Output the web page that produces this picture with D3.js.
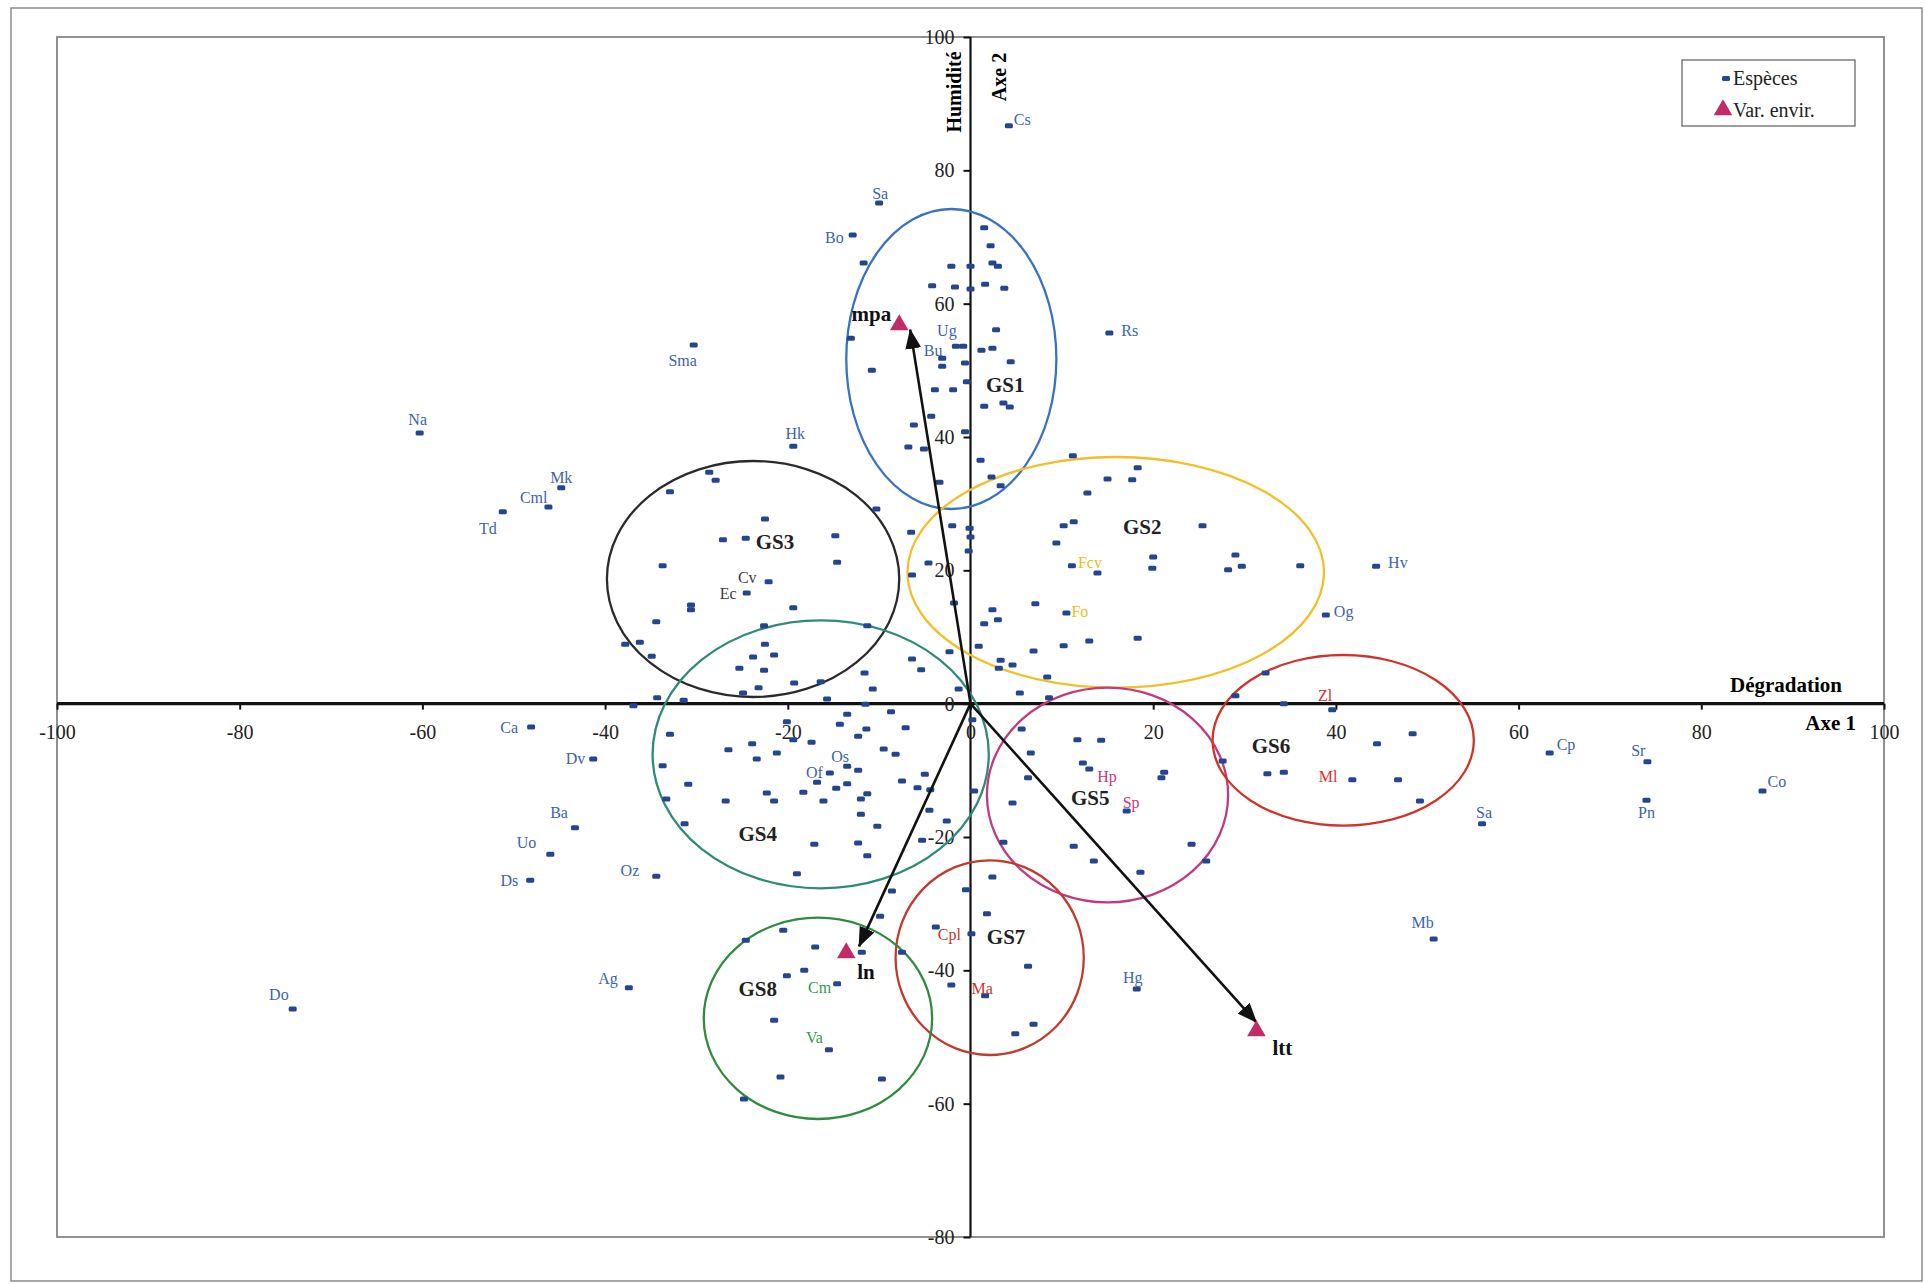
<!DOCTYPE html>
<html><head><meta charset="utf-8">
<script src="https://cdn.jsdelivr.net/npm/d3@7"></script>
<style>
html,body{margin:0;padding:0;background:#fff;}
svg{display:block;font-family:"Liberation Serif","Times New Roman",serif;}
</style></head><body>
<svg id="chart" width="1925" height="1284"></svg>
<script>
// ---------------- DATA ----------------
const xTicks = [-100,-80,-60,-40,-20,0,20,40,60,80,100];
const yTicks = [-80,-60,-40,-20,0,20,40,60,80,100];

// species with a name shown on the chart (Axe 1, Axe 2)
const labelledSpecies = [
  {code:"Cs",x:4.2,y:86.7},{code:"Sa",x:-10.0,y:75.1},{code:"Bo",x:-12.9,y:70.3},
  {code:"Rs",x:15.2,y:55.6},{code:"Ug",x:-1.6,y:53.6},{code:"Bu",x:-3.1,y:51.8},
  {code:"Sma",x:-30.3,y:53.8},{code:"Hk",x:-19.4,y:38.6},{code:"Na",x:-60.3,y:40.6},
  {code:"Mk",x:-44.8,y:32.4},{code:"Cml",x:-46.2,y:29.5},{code:"Td",x:-51.2,y:28.8},
  {code:"Cv",x:-22.1,y:18.3},{code:"Ec",x:-24.5,y:16.6},{code:"Fcv",x:11.1,y:20.7},
  {code:"Fo",x:10.5,y:13.6},{code:"Hv",x:44.4,y:20.6},{code:"Og",x:38.9,y:13.3},
  {code:"Zl",x:39.6,y:-0.9},{code:"Ml",x:41.8,y:-11.4},{code:"Hp",x:13.0,y:-9.8},
  {code:"Sp",x:17.1,y:-16.1},{code:"Cp",x:63.4,y:-7.4},{code:"Sr",x:74.1,y:-8.7},
  {code:"Co",x:86.7,y:-13.1},{code:"Pn",x:74.0,y:-14.5},{code:"Sa ",x:56.0,y:-18.0},
  {code:"Mb",x:50.7,y:-35.3},{code:"Hg",x:18.2,y:-42.8},{code:"Cpl",x:-3.8,y:-33.5},
  {code:"Ma",x:1.6,y:-43.8},{code:"Cm",x:-14.6,y:-42.0},{code:"Va",x:-15.5,y:-51.9},
  {code:"Of",x:-15.4,y:-10.4},{code:"Os",x:-13.5,y:-9.4},{code:"Ca",x:-48.1,y:-3.5},
  {code:"Dv",x:-41.3,y:-8.3},{code:"Ba",x:-43.3,y:-18.6},{code:"Uo",x:-46.0,y:-22.6},
  {code:"Ds",x:-48.2,y:-26.5},{code:"Oz",x:-34.4,y:-25.9},{code:"Ag",x:-37.4,y:-42.6},
  {code:"Do",x:-74.2,y:-45.8}
];

// other species (Axe 1, Axe 2)
const otherSpecies = [
  // GS1 area
  [-11.7,66.1],[-2.1,65.6],[0,65.6],[1.5,71.4],[2.2,68.7],[2.4,66.1],[3.0,65.6],
  [-4.2,62.7],[-1.7,62.5],[0,62.2],[1.6,62.9],[3.7,62.3],[2.8,56.1],[-0.8,53.6],
  [1.2,53.0],[2.4,53.3],[-13.1,54.8],[-3.1,50.6],[-0.6,51.1],[4.4,51.3],[-10.8,50.0],
  [-3.9,47.1],[-1.9,47.1],[-0.4,48.3],[1.5,44.6],[3.6,45.1],[4.3,44.5],[-4.3,43.1],
  [-6.2,41.8],[-0.6,40.8],[-6.8,38.5],[-5.1,38.2],[1.1,36.5],[2.3,34.0],[3.3,32.7],[-3.4,33.2],
  // GS2 area
  [11.2,37.2],[15.0,33.7],[12.8,31.6],[18.3,35.4],[17.7,33.6],[-2.0,26.7],[-0.1,26.3],
  [-6.5,25.7],[0,25.0],[-0.2,22.9],[-4.6,21.1],[-6.4,19.3],[-1.8,15.1],[2.4,14.1],
  [1.5,12.0],[3.0,12.6],[7.1,15.0],[13.9,19.6],[9.4,24.1],[10.2,26.7],[11.3,27.3],
  [0.9,8.6],[-2.3,7.8],[3.3,6.5],[3.1,5.3],[4.6,5.8],[6.9,7.9],[10.2,8.7],[13.0,9.4],
  [8.4,4.0],[5.4,1.6],[-1.3,2.2],[8.6,0.9],[25.4,26.7],[20.0,22.0],[19.9,20.3],
  [29.0,22.3],[28.2,20.1],[29.7,20.6],[36.1,20.7],[18.3,9.8],[32.3,4.6],[29.0,1.2],[34.3,0.0],
  // GS3 area
  [-28.6,34.7],[-27.9,33.5],[-32.9,31.8],[-10.3,29.2],[-22.5,27.7],[-27.1,24.6],[-24.6,24.8],
  [-14.8,25.2],[-14.6,21.2],[-33.7,20.7],[-30.6,14.8],[-30.6,14.1],[-19.4,14.4],[-34.4,12.3],
  [-22.6,11.7],[-11.3,11.7],[-37.8,8.9],[-36.2,9.2],[-34.9,7.1],[-22.5,8.9],[-23.8,7.0],
  [-21.5,7.3],[-25.3,5.3],[-22.6,5.0],[-19.3,3.1],[-16.4,3.3],[-23.2,2.4],[-24.9,1.6],
  [-34.3,0.9],[-31.4,0.5],[-36.9,-0.3],[-6.4,6.7],[-5.4,5.1],[-11.6,4.6],[-10.7,2.2],
  [-15.7,0.7],[-11.5,-0.1],
  // GS4 area
  [0.2,-2.4],[-13.5,-1.6],[-8.7,-1.2],[-7.1,-3.6],[-11.4,-3.8],[-12.3,-4.9],[-14.3,-3.1],
  [-17.4,-5.8],[-20.1,-2.7],[-19.4,-5.4],[-21.2,-7.4],[-23.9,-6.0],[-26.5,-6.9],[-32.9,-4.6],
  [-33.7,-9.3],[-30.9,-12.1],[-33.3,-14.3],[-31.3,-18.0],[-9.5,-6.8],[-8.2,-7.6],[-23.4,-8.3],
  [-26.8,-14.6],[-22.3,-13.4],[-21.5,-14.6],[-18.3,-13.3],[-16.1,-14.6],[-16.8,-11.8],
  [-14.7,-12.7],[-13.5,-12.0],[-12.3,-10.0],[-12.0,-14.3],[-11.3,-13.5],[-12.0,-16.6],
  [-7.5,-11.6],[-5.8,-12.6],[-4.4,-12.9],[-5.0,-10.6],[0.4,-13.1],[-4.5,-16.0],[-2.6,-17.6],
  [-10.2,-18.4],[-5.3,-20.5],[-17.1,-21.1],[-12.3,-20.9],[-11.3,-22.8],[-19.0,-25.5],
  // GS7 / GS8 area
  [-8.6,-28.1],[-0.5,-27.9],[2.4,-26.0],[1.8,-31.5],[-9.9,-31.9],[0.1,-34.5],[6.3,-39.4],
  [-2.1,-42.2],[6.9,-48.1],[4.9,-49.5],[-11.9,-37.3],[-7.5,-37.3],[-20.5,-34.0],[-24.6,-35.5],
  [-17.0,-36.5],[-18.2,-40.0],[-20.1,-40.8],[-21.5,-47.5],[-20.8,-56.0],[-9.7,-56.3],[-24.8,-59.3],
  // GS5 area
  [6.6,-7.4],[5.6,-3.8],[11.7,-5.4],[14.3,-5.5],[12.3,-8.9],[6.3,-11.1],[4.6,-14.9],
  [3.6,-20.8],[11.3,-21.4],[13.5,-23.6],[18.6,-25.3],[24.2,-21.1],[25.8,-23.6],
  [21.2,-10.3],[20.9,-11.1],[27.6,-8.6],
  // GS6 area
  [48.4,-4.5],[44.5,-6.0],[32.5,-10.5],[34.3,-10.3],[46.8,-11.4],[49.2,-14.6]
];

// environmental variables (Var. envir.) and their arrows
const envVariables = [
  {name:"mpa",x:-7.8,y:56.8},{name:"ln",x:-13.6,y:-37.4},{name:"ltt",x:31.3,y:-49.1}
];
const envArrowTips = [
  {name:"mpa",x:-6.6,y:56.1},{name:"ln",x:-12.2,y:-36.4},{name:"ltt",x:31.3,y:-47.8}
];

// species groups (ellipses, in axis units)
const groups = [
  {name:"GS1",cx:-2.1,cy:51.7,rx:11.5,ry:22.5},
  {name:"GS2",cx:15.9,cy:19.7,rx:22.8,ry:17.3},
  {name:"GS3",cx:-23.8,cy:18.7,rx:16.0,ry:17.7},
  {name:"GS4",cx:-16.4,cy:-7.6,rx:18.4,ry:20.1},
  {name:"GS5",cx:15.0,cy:-13.7,rx:13.2,ry:16.1},
  {name:"GS6",cx:40.8,cy:-5.5,rx:14.3,ry:12.8},
  {name:"GS7",cx:2.1,cy:-38.1,rx:10.3,ry:14.6},
  {name:"GS8",cx:-16.7,cy:-47.2,rx:12.5,ry:15.1}
];
const groupLabelAt = {
  GS1:[3.8,47.8],GS2:[18.8,26.5],GS3:[-21.4,24.2],GS4:[-23.3,-19.6],
  GS5:[13.1,-14.1],GS6:[32.9,-6.3],GS7:[3.9,-35.0],GS8:[-23.3,-42.8]
};

// ---------------- STYLE / LAYOUT ----------------
const groupColor = {GS1:"#3a72c2",GS2:"#f0bf2a",GS3:"#2a2a2a",GS4:"#2f8a78",
  GS5:"#c23a7e",GS6:"#cf3329",GS7:"#c23a2e",GS8:"#2f8c3e"};
const labelColor = {Cv:"#3d3d3d",Ec:"#3d3d3d",Fcv:"#e6c020",Fo:"#e6c020",
  Zl:"#d43030",Ml:"#d43030",Hp:"#c23a7e",Sp:"#c23a7e",Cpl:"#c8352c",Ma:"#c8352c",
  Cm:"#2f9a4e",Va:"#2f9a4e"};
const defaultLabelColor = "#3b63b0";
// [anchor, dx, dy] label placement relative to marker (px)
const labelPlace = {
  "Cs":["start",5,-1],"Sa":["middle",1,-4],"Bo":["end",-9,8],"Rs":["start",12,3],
  "Ug":["middle",-9,-10],"Bu":["middle",-9,-2],"Sma":["middle",-11,21],"Hk":["middle",2,-7],
  "Na":["middle",-2,-8],"Mk":["middle",0,-5],"Cml":["end",-1,-4],"Td":["end",-6,22],
  "Cv":["end",-12,1],"Ec":["end",-10,6],"Fcv":["start",6,2],"Fo":["start",5,4],
  "Hv":["start",12,2],"Og":["start",8,2],"Zl":["end",0,-9],"Ml":["end",-15,2],
  "Hp":["start",8,13],"Sp":["start",-4,-3],"Cp":["start",7,-3],"Sr":["end",-2,-6],
  "Co":["start",5,-4],"Pn":["middle",0,18],"Sa ":["middle",2,-6],"Mb":["middle",-11,-11],
  "Hg":["middle",-4,-6],"Cpl":["start",2,13],"Ma":["middle",-3,-2],"Cm":["end",-6,9],
  "Va":["end",-6,-7],"Of":["end",-7,5],"Os":["middle",-7,-4],"Ca":["end",-13,6],
  "Dv":["end",-8,5],"Ba":["end",-7,-10],"Uo":["end",-14,-6],"Ds":["end",-12,6],
  "Oz":["end",-17,0],"Ag":["end",-11,-4],"Do":["end",-4,-9]
};
const envLabelPlace = {mpa:["end",-8,-4],ln:["start",11,26],ltt:["start",16,24]};

// ---------------- DRAW ----------------
const svg = d3.select("#chart");
const x = d3.scaleLinear().domain([-100,100]).range([57,1884]);
const y = d3.scaleLinear().domain([-80,100]).range([1237,37]);

// outer frame and plot frame
svg.append("rect").attr("x",11).attr("y",8).attr("width",1911).attr("height",1273)
  .attr("fill","#fff").attr("stroke","#7a7a7a").attr("stroke-width",1.3);
svg.append("rect").attr("x",x(-100)).attr("y",y(100))
  .attr("width",x(100)-x(-100)).attr("height",y(-80)-y(100))
  .attr("fill","none").attr("stroke","#858585").attr("stroke-width",1.8);

const defs = svg.append("defs");
defs.append("marker").attr("id","arrow").attr("viewBox","0 0 20 16")
  .attr("refX",19).attr("refY",8).attr("markerWidth",20).attr("markerHeight",16)
  .attr("markerUnits","userSpaceOnUse").attr("orient","auto")
  .append("path").attr("d","M0,0 L20,8 L0,16 Z").attr("fill","#111");

// axes
const gx = svg.append("g").attr("transform",`translate(0,${y(0)})`)
  .call(d3.axisBottom(x).tickValues(xTicks).tickSize(6).tickPadding(15).tickFormat(d3.format("d")));
gx.select(".domain").remove();
gx.selectAll(".tick line").attr("stroke","#111").attr("stroke-width",2);
gx.selectAll(".tick text").attr("font-size",20).attr("font-family","Liberation Serif").attr("fill","#222")
  .text(d=>String(d).replace("−","-"));
svg.append("line").attr("x1",x(-100)).attr("x2",x(100)).attr("y1",y(0)).attr("y2",y(0))
  .attr("stroke","#111").attr("stroke-width",3.2);

const gy = svg.append("g").attr("transform",`translate(${x(0)},0)`)
  .call(d3.axisLeft(y).tickValues(yTicks).tickSize(7).tickPadding(9).tickFormat(d3.format("d")));
gy.select(".domain").remove();
gy.selectAll(".tick line").attr("stroke","#111").attr("stroke-width",2);
gy.selectAll(".tick text").attr("font-size",20).attr("font-family","Liberation Serif").attr("fill","#222")
  .text(d=>String(d).replace("−","-"));
svg.append("line").attr("x1",x(0)).attr("x2",x(0)).attr("y1",y(100)).attr("y2",y(-80))
  .attr("stroke","#111").attr("stroke-width",2.2);

// axis titles
svg.append("text").attr("x",1842).attr("y",692).attr("text-anchor","end")
  .attr("font-size",21).attr("font-weight","bold").text("Dégradation");
svg.append("text").attr("x",1856).attr("y",730).attr("text-anchor","end")
  .attr("font-size",21).attr("font-weight","bold").text("Axe 1");
svg.append("text").attr("transform","translate(961,92) rotate(-90)").attr("text-anchor","middle")
  .attr("font-size",20).attr("font-weight","bold").text("Humidité");
svg.append("text").attr("transform","translate(1006,77) rotate(-90)").attr("text-anchor","middle")
  .attr("font-size",20).attr("font-weight","bold").text("Axe 2");

// group ellipses
svg.append("g").selectAll("ellipse").data(groups).join("ellipse")
  .attr("cx",d=>x(d.cx)).attr("cy",d=>y(d.cy))
  .attr("rx",d=>x(d.rx)-x(0)).attr("ry",d=>y(0)-y(d.ry))
  .attr("fill","none").attr("stroke",d=>groupColor[d.name]).attr("stroke-width",2.3);

// species markers
const markerColor = "#23468c";
const allSpecies = labelledSpecies.map(d=>[d.x,d.y]).concat(otherSpecies);
svg.append("g").selectAll("rect").data(allSpecies).join("rect")
  .attr("x",d=>x(d[0])-4).attr("y",d=>y(d[1])-2.5).attr("width",8).attr("height",5)
  .attr("rx",1.5).attr("fill",markerColor);

// species labels
svg.append("g").selectAll("text").data(labelledSpecies).join("text")
  .attr("x",d=>x(d.x)+labelPlace[d.code][1]).attr("y",d=>y(d.y)+labelPlace[d.code][2])
  .attr("text-anchor",d=>labelPlace[d.code][0])
  .attr("font-size",16).attr("fill",d=>labelColor[d.code.trim()]||defaultLabelColor)
  .text(d=>d.code.trim());

// arrows
svg.append("g").selectAll("line").data(envArrowTips).join("line")
  .attr("x1",x(0)).attr("y1",y(0)).attr("x2",d=>x(d.x)).attr("y2",d=>y(d.y))
  .attr("stroke","#111").attr("stroke-width",2.6).attr("marker-end","url(#arrow)");

// env variable triangles
const tri = d3.symbol().type(d3.symbolTriangle).size(150);
svg.append("g").selectAll("path").data(envVariables).join("path")
  .attr("transform",d=>`translate(${x(d.x)},${y(d.y)})`).attr("d",tri).attr("fill","#c22c66");
svg.append("g").selectAll("text").data(envVariables).join("text")
  .attr("x",d=>x(d.x)+envLabelPlace[d.name][1]).attr("y",d=>y(d.y)+envLabelPlace[d.name][2])
  .attr("text-anchor",d=>envLabelPlace[d.name][0])
  .attr("font-size",21).attr("font-weight","bold").attr("fill","#111").text(d=>d.name);

// group labels
svg.append("g").selectAll("text").data(groups).join("text")
  .attr("x",d=>x(groupLabelAt[d.name][0])).attr("y",d=>y(groupLabelAt[d.name][1])+7)
  .attr("text-anchor","middle").attr("font-size",21).attr("font-weight","bold")
  .attr("fill","#222").text(d=>d.name);

// legend
const lg = svg.append("g");
lg.append("rect").attr("x",1682).attr("y",60).attr("width",173).attr("height",66)
  .attr("fill","#fff").attr("stroke","#6a6a6a").attr("stroke-width",1.3);
lg.append("rect").attr("x",1722).attr("y",76).attr("width",8).attr("height",5).attr("rx",1.5).attr("fill",markerColor);
lg.append("text").attr("x",1733).attr("y",85).attr("font-size",20).attr("fill","#222").text("Espèces");
lg.append("path").attr("transform","translate(1723,110)").attr("d",tri).attr("fill","#c22c66");
lg.append("text").attr("x",1733).attr("y",117).attr("font-size",20).attr("fill","#222").text("Var. envir.");
</script>
</body></html>
